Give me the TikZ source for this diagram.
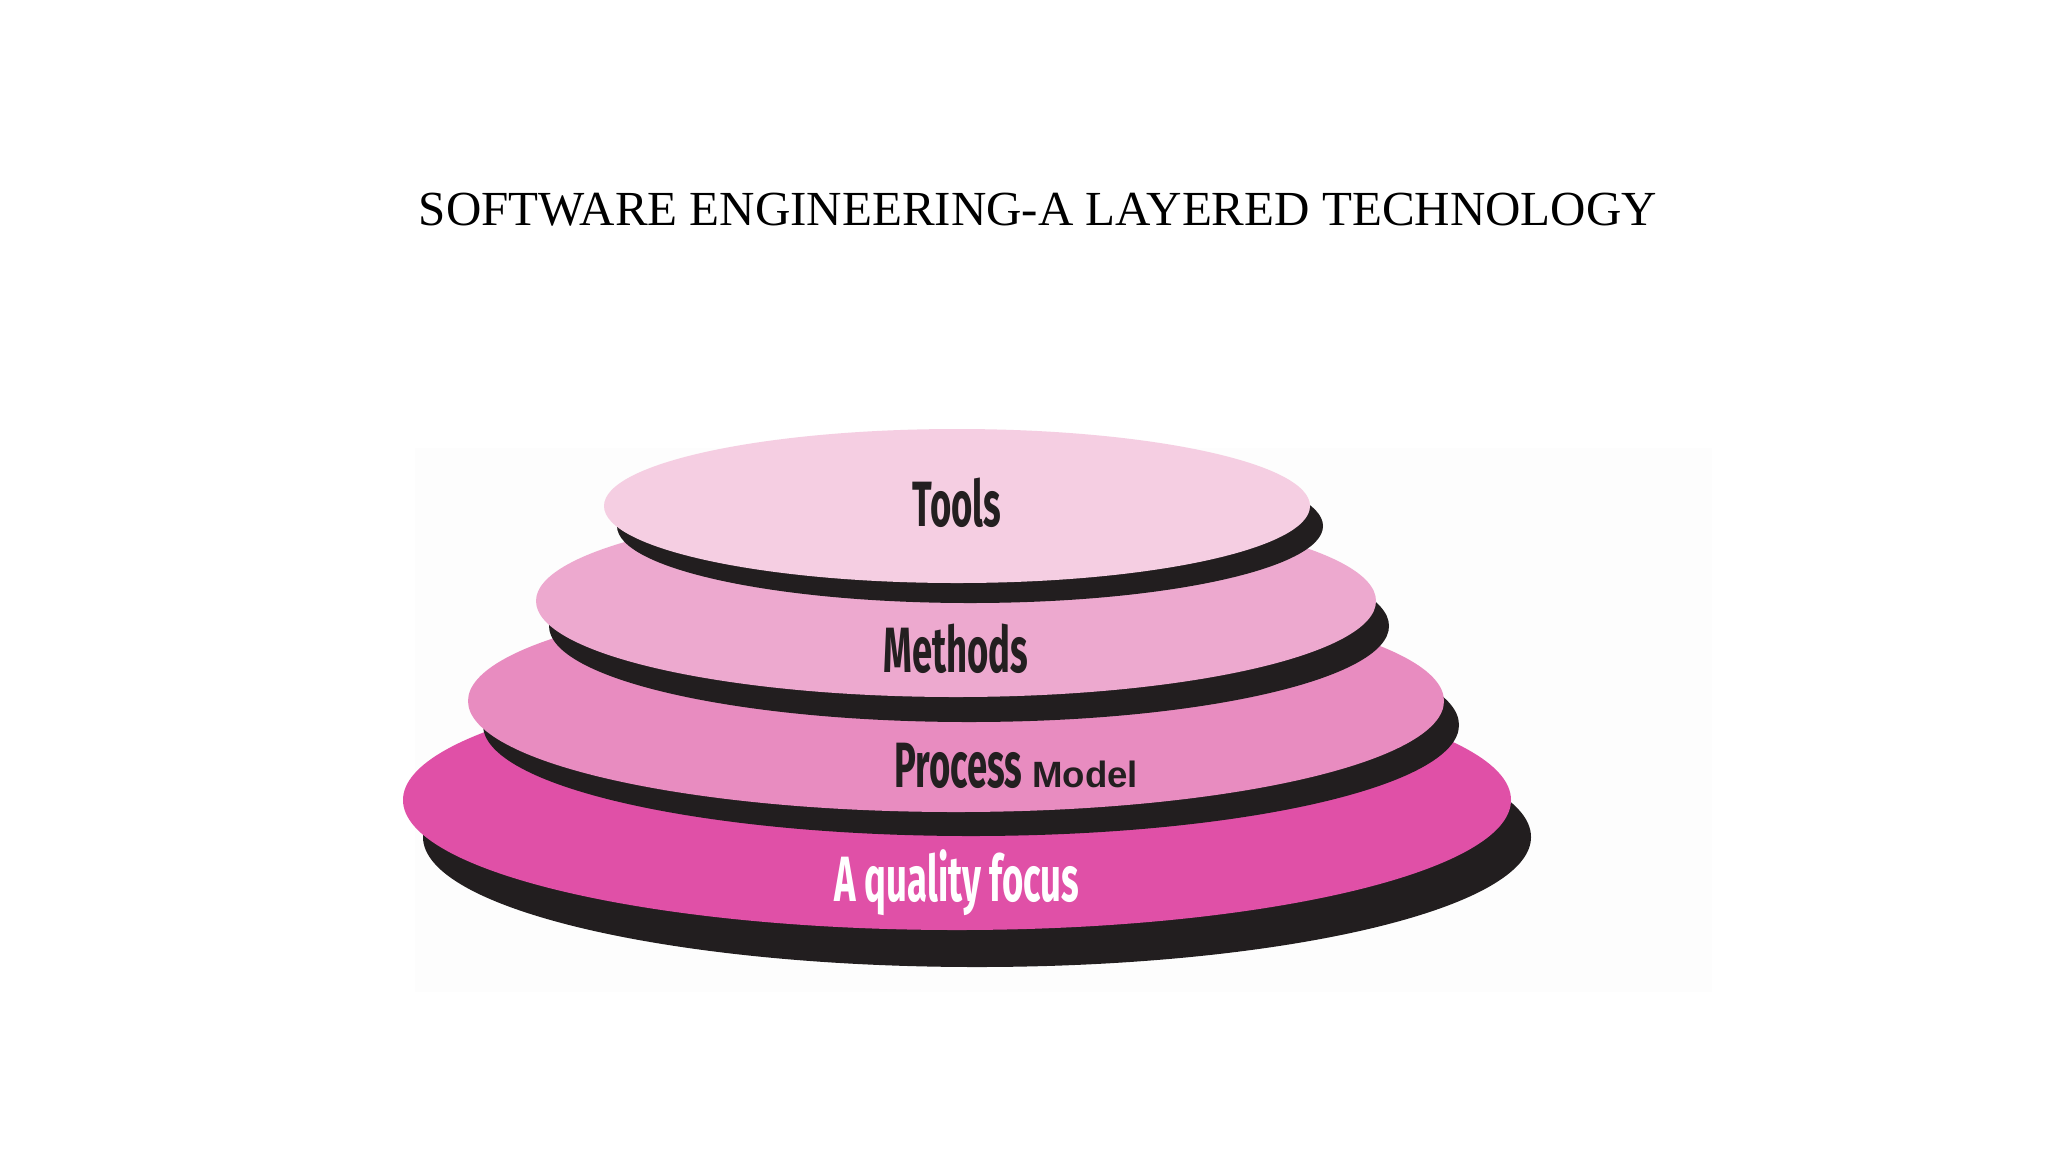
\documentclass[tikz,border=0pt]{standalone}
\usepackage{fontspec}
\setmainfont{Liberation Serif}
\newfontfamily\labfont{Fira Sans}
\newfontfamily\arialfont{Liberation Sans}
\definecolor{shadowc}{RGB}{34,30,31}
\definecolor{toolsc}{RGB}{245,206,226}
\definecolor{methodsc}{RGB}{237,169,207}
\definecolor{processc}{RGB}{232,140,192}
\definecolor{qualityc}{RGB}{224,80,167}
\definecolor{bgc}{RGB}{253,253,253}
\definecolor{inkc}{RGB}{35,31,32}
\tikzset{
  lab/.style={inner sep=0pt, text=inkc, font=\labfont\bfseries\fontsize{32}{36}\selectfont},
  shad/.style={fill=shadowc},
}
\newcommand{\cond}[1]{\scalebox{0.57}[1]{#1}}
\begin{document}
\begin{tikzpicture}[x=0.5pt,y=-0.5pt]
\useasboundingbox (0,0) rectangle (2048,1152);
\fill[white] (0,0) rectangle (2048,1152);
\fill[bgc] (415,448) rectangle (1712,992);
% quality
\fill[shad] (977,837) ellipse [x radius=554, y radius=130];
\fill[qualityc] (957,800) ellipse [x radius=554, y radius=130];
% process
\fill[shad] (971,725) ellipse [x radius=488, y radius=111];
\fill[processc] (956,701) ellipse [x radius=488, y radius=111];
% methods
\fill[shad] (969,626) ellipse [x radius=420, y radius=96];
\fill[methodsc] (956,601) ellipse [x radius=420, y radius=96];
% tools
\fill[shad] (970,526) ellipse [x radius=353, y radius=77];
\fill[toolsc] (957,506) ellipse [x radius=353, y radius=77];
\node[font=\fontsize{24.5}{29}\selectfont, text=black] (title) at (1038,210) {SOFTWARE ENGINEERING-A LAYERED TECHNOLOGY};
\node[lab, anchor=base] (tools) at (957,526) {\cond{Tools}};
\node[lab, anchor=base] (methods) at (956,672) {\cond{Methods}};
\node[lab, anchor=base west] (process) at (894,787) {\cond{Process}};
\node[inner sep=0pt, anchor=base west, text=inkc, font=\arialfont\bfseries\fontsize{18.3}{22}\selectfont] (model) at (1032,787) {Model};
\node[lab, anchor=base, text=white] (quality) at (957,901) {\cond{A quality focus}};
\end{tikzpicture}
\end{document}
